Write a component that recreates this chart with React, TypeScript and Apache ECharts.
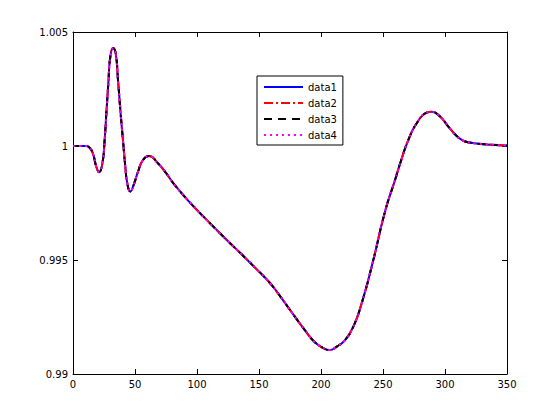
import React, { useEffect, useRef } from "react";
import * as echarts from "echarts";

const xValues = [
  0, 10, 13, 16, 18.8, 21, 23.7, 25.5, 26.9, 28.5, 30.1, 32.3, 34.4, 36.3, 38.4, 40.3, 42.2,
  43.8, 46.2, 48.9, 52.4, 56.5, 61.3, 68.5, 75.3, 81, 94, 107.8, 124, 136, 148, 159, 168, 177,
  187, 194, 200.5, 207, 212.7, 219.4, 226, 232.8, 242.2, 251.6, 259.7, 264.5, 270.4, 277.2,
  285.2, 289.3, 296, 302.7, 309.4, 314.8, 320, 327, 337, 350,
];
const yValues = [
  1.0, 1.0, 0.99995, 0.99968, 0.99909, 0.99885, 0.99924, 1.00026, 1.00143, 1.00275, 1.00392,
  1.00429, 1.00407, 1.00289, 1.00143, 1.00026, 0.99909, 0.99836, 0.998, 0.99829, 0.99887,
  0.99939, 0.99956, 0.99924, 0.9988, 0.99836, 0.99754, 0.99676, 0.99588, 0.99525, 0.9946,
  0.99398, 0.99334, 0.99266, 0.99192, 0.99145, 0.99118, 0.99105, 0.9912, 0.99149, 0.99207,
  0.9931, 0.995, 0.99712, 0.99851, 0.99935, 1.00026, 1.001, 1.00146, 1.0015, 1.00129, 1.00085,
  1.00044, 1.00023, 1.00015, 1.0001, 1.00006, 1.00002,
];
const seriesNames = ["data1", "data2", "data3", "data4"];
const seriesColors = ["#0000ff", "#ff0000", "#000000", "#ff00ff"];
const seriesDashes: (string | number[])[] = ["solid", [9, 3, 2, 3], [8, 6], [2, 4]];

const FONT = "DejaVu Sans";

export default function App() {
  const ref = useRef<HTMLDivElement>(null);
  useEffect(() => {
    if (!ref.current) return;
    const chart = echarts.init(ref.current, undefined, { renderer: "svg" });
    const pts = xValues.map((x, i) => [x, yValues[i]]);
    const axisCommon = {
      axisLine: { show: true, onZero: false, lineStyle: { color: "#000", width: 1 } },
      axisTick: { show: true, inside: true, length: 5, lineStyle: { color: "#000" } },
      splitLine: { show: false },
    };
    const yFmt = (v: number) => String(parseFloat(v.toFixed(3)));
    chart.setOption({
      animation: false,
      backgroundColor: "#fff",
      grid: { left: 73, right: 53, top: 32, bottom: 46, containLabel: false },
      legend: {
        show: true,
        orient: "vertical",
        left: 257,
        top: 76,
        itemWidth: 39,
        itemHeight: 12,
        itemGap: 6,
        padding: [6, 6, 5, 6],
        borderColor: "#000",
        borderWidth: 1,
        backgroundColor: "#fff",
        itemStyle: { opacity: 0 },
        textStyle: { fontFamily: FONT, fontSize: 10, color: "#000" },
        data: seriesNames,
      },
      xAxis: [
        {
          type: "value",
          position: "bottom",
          min: 0,
          max: 350,
          interval: 50,
          ...axisCommon,
          axisLabel: { show: true, color: "#000", fontFamily: FONT, fontSize: 10, margin: 5 },
        },
        {
          type: "value",
          position: "top",
          min: 0,
          max: 350,
          interval: 50,
          ...axisCommon,
          axisLabel: { show: false },
        },
      ],
      yAxis: [
        {
          type: "value",
          position: "left",
          min: 0.99,
          max: 1.005,
          interval: 0.005,
          ...axisCommon,
          axisLabel: {
            show: true,
            color: "#000",
            fontFamily: FONT,
            fontSize: 10,
            margin: 5,
            formatter: yFmt,
          },
        },
        {
          type: "value",
          position: "right",
          min: 0.99,
          max: 1.005,
          interval: 0.005,
          ...axisCommon,
          axisLabel: { show: false },
        },
      ],
      series: seriesNames.map((name, i) => ({
        name,
        type: "line",
        xAxisIndex: 0,
        yAxisIndex: 0,
        data: pts,
        symbol: "none",
        smooth: 0.5,
        color: seriesColors[i],
        lineStyle: { color: seriesColors[i], width: 2, type: seriesDashes[i] },
      })),
    });
    return () => chart.dispose();
  }, []);
  return (
    <div
      ref={ref}
      style={{ position: "fixed", left: 0, top: 0, width: 560, height: 420, background: "#fff" }}
    />
  );
}
